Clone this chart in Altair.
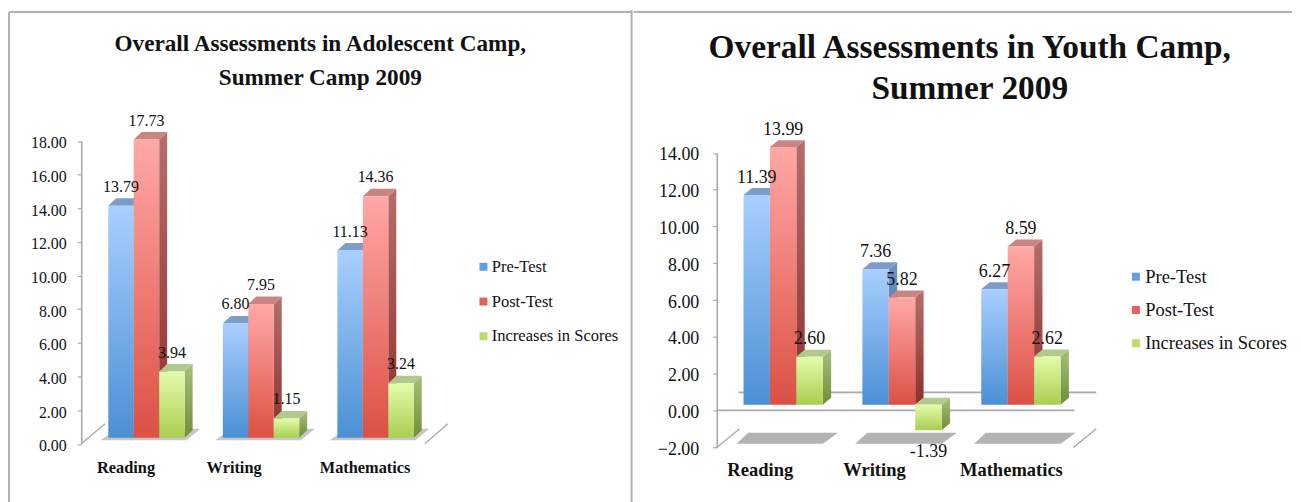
import altair as alt
import pandas as pd

categories = ["Reading", "Writing", "Mathematics"]
series = ["Pre-Test", "Post-Test", "Increases in Scores"]
teen_pre = [13.79, 6.80, 11.13]
teen_post = [17.73, 7.95, 14.36]
teen_inc = [3.94, 1.15, 3.24]
youth_pre = [11.39, 7.36, 6.27]
youth_post = [13.99, 5.82, 8.59]
youth_inc = [2.60, -1.39, 2.62]
teen_title = ["Overall Assessments in Adolescent Camp,", "Summer Camp 2009"]
youth_title = ["Overall Assessments in Youth Camp,", "Summer 2009"]
teen_ticks = [0, 2, 4, 6, 8, 10, 12, 14, 16, 18]
youth_ticks = [-2, 0, 2, 4, 6, 8, 10, 12, 14]

FONT = "Liberation Serif"
GRID = "#a9a9a9"


def grad(top, bottom):
    return alt.Gradient(gradient="linear", x1=0, x2=0, y1=0, y2=1,
                        stops=[alt.GradientStop(offset=0, color=top),
                               alt.GradientStop(offset=1, color=bottom)])


FRONT = [("#A9CFFF", "#4A90D4"), ("#FFA8A6", "#DC5044"), ("#E4FCAC", "#A9CE50")]
SIDE = [("#6F93C2", "#35689F"), ("#B46E6C", "#8E2F2B"), ("#A8BE7C", "#6F8F36")]
TOPF = ["#7C9DC9", "#C98583", "#B3C88C"]
LEGEND = ["#5F9FE0", "#E4605A", "#BBDD66"]


def build(P, rows, title):
    ox, oy = P["ox"], P["oy"]
    ux = (P["ax1"] - P["ax0"]) / 3
    uy = (P["y_lo_px"] - P["y_hi_px"]) / (P["dom"][1] - P["dom"][0])
    px_x = lambda n: n / ux
    px_y = lambda n: n / uy
    from_px = lambda x: (x - P["ax0"]) / ux
    val_px = lambda y: P["dom"][0] + (P["y_lo_px"] - y) / uy

    xe = alt.X("x:Q", axis=None, title=None,
               scale=alt.Scale(domain=[0, 3], range=[P["ax0"] - ox, P["ax1"] - ox], nice=False, zero=False))
    yscale = alt.Scale(domain=P["dom"], range=[P["y_lo_px"] - oy, P["y_hi_px"] - oy], nice=False, zero=False)
    ye = alt.Y("y:Q", title=None, scale=yscale,
               axis=alt.Axis(values=P["ticks"], format=".2f", offset=-(P["ax0"] - ox), grid=False,
                             domainColor=GRID, domainWidth=1.6, tickColor=GRID, tickSize=4, tickWidth=1.2,
                             labelFont=FONT, labelFontSize=P["fs"], labelColor="#111",
                             labelPadding=P["lp"], labelBaseline="middle", labelOffset=2))

    def para(key, xl, xr, dx, y0, dy):
        return [dict(k=key, x=xl, y=y0, y2=y0),
                dict(k=key, x=xl + dx, y=y0, y2=y0 + dy),
                dict(k=key, x=xr, y=y0, y2=y0 + dy),
                dict(k=key, x=xr + dx, y=y0 + dy, y2=y0 + dy)]

    def area(recs, color):
        return alt.Chart(pd.DataFrame(recs)).mark_area(color=color, orient="vertical", strokeWidth=0).encode(
            x=xe, y=ye, y2="y2:Q", detail="k:N")

    def seg(pts, width):
        df = pd.DataFrame([dict(k=k, x=from_px(x), y=val_px(y)) for k, x, y in pts])
        return alt.Chart(df).mark_line(color=GRID, strokeWidth=width).encode(x=xe, y=ye, detail="k:N")

    w = 1 / 4.5
    sx, sy = px_x(P["shift_x"]), px_y(P["shift_y"])
    dx, dy = px_x(P["dx"]), px_y(P["dy"])

    layers = []
    fr = alt.Chart(pd.DataFrame({"a": [0]}))
    for r in P["rules"]:
        layers.append(fr.mark_rule(color="#b2b2b2", strokeWidth=2).encode(
            x=alt.value(r[0]), x2=alt.value(r[1]), y=alt.value(r[2]), y2=alt.value(r[3])))

    # floor & walls
    layers.append(seg(P["lines"], 1.3))
    if P.get("heavy"):
        layers.append(seg(P["heavy"], 1.8))
    # floor shadows
    sh = []
    s = P["shadow"]
    for i in range(3):
        c = i + 0.5 + sx
        bl, br, tl, tr = [px_x(v) for v in s["xs"]]
        y0 = val_px(s["y_bot"])
        y1 = val_px(s["y_top"])
        sh += [dict(k=f"s{i}", x=c + bl, y=y0, y2=y0),
               dict(k=f"s{i}", x=c + tl, y=y0, y2=y1),
               dict(k=f"s{i}", x=c + br, y=y0, y2=y1),
               dict(k=f"s{i}", x=c + tr, y=y1, y2=y1)]
    layers.append(area(sh, s["color"]))

    labels = []
    for j, vals in enumerate(rows):
        side, top, front = [], [], []
        for i, v in enumerate(vals):
            xl = i + 0.5 - 1.5 * w + j * w + sx
            xr = xl + w
            hi = max(v, 0) + sy
            lo = min(v, 0) + sy
            key = f"b{i}"
            side += [dict(k=key, x=xr, y=lo, y2=hi), dict(k=key, x=xr + dx, y=lo + dy, y2=hi + dy)]
            top += para(key, xl, xr, dx, hi, dy)
            front += [dict(k=key, x=xl, y=lo, y2=hi), dict(k=key, x=xr, y=lo, y2=hi)]
            off = px_y(P["lab"]) if v >= 0 else -px_y(P["neg"])
            labels.append(dict(x=(xl + xr) / 2, y=(v + sy + off), t=f"{v:.2f}"))
        layers += [area(side, grad(*SIDE[j])), area(top, TOPF[j]), area(front, grad(*FRONT[j]))]

    layers.append(alt.Chart(pd.DataFrame(labels)).mark_text(
        font=FONT, fontSize=P["fs"], color="#111", baseline="middle", align="center").encode(x=xe, y=ye, text="t:N"))

    cats = pd.DataFrame([dict(x=from_px(cx), y=val_px(P["cat_y"]), t=c) for c, cx in zip(categories, P["cat_x"])])
    layers.append(alt.Chart(cats).mark_text(
        font=FONT, fontSize=P["cat_fs"], fontWeight="bold", color="#111", baseline="middle", align="center"
    ).encode(x=xe, y=ye, text="t:N"))

    tt = pd.DataFrame([dict(x=from_px(P["title_x"]), y=val_px(yy), t=t) for t, yy in zip(title, P["title_y"])])
    layers.append(alt.Chart(tt).mark_text(
        font=FONT, fontSize=P["title_fs"], fontWeight="bold", color="#111", baseline="middle", align="center"
    ).encode(x=xe, y=ye, text="t:N"))

    lg = pd.DataFrame({"x": [0, 0, 0], "y": [P["dom"][0]] * 3, "s": series})
    layers.append(alt.Chart(lg).mark_point(filled=True, shape="square", size=0, opacity=1).encode(
        x=xe, y=ye,
        color=alt.Color("s:N", sort=None, scale=alt.Scale(domain=series, range=LEGEND),
                        legend=alt.Legend(title=None, orient="none", legendX=P["lx"] - ox, legendY=P["ly"] - oy,
                                          symbolType="square", symbolSize=64, symbolStrokeWidth=0, padding=0,
                                          labelFont=FONT, labelFontSize=P["leg_fs"], labelColor="#111",
                                          labelOffset=0, rowPadding=P["rp"]))))

    return alt.layer(*layers).properties(width=P["w"], height=P["h"])


H = 494
left = dict(ox=8.5, oy=8.5, w=624, h=H, ax0=80, ax1=425, y_lo_px=444, y_hi_px=140, dom=[0, 18], ticks=teen_ticks,
            fs=16, lp=11, lab=19, shift_x=8, shift_y=6, dx=8, dy=7.5, neg=22,
            cat_x=[125, 233.5, 365], cat_y=468, cat_fs=16.4,
            title_x=320, title_y=[43, 77], title_fs=23.3,
            lx=475.5, ly=258, leg_fs=16.6, rp=17.9,
            rules=[(-1, 624, 2, 2), (-1, -1, 2, H), (624, 624, 0, H)],
            lines=[("a", 80, 444), ("a", 104, 424), ("b", 425, 444), ("b", 448, 424)],
            shadow=dict(xs=[-46, 40, -30, 54], y_bot=440.5, y_top=429, color="#c6c6c6"))
right = dict(ox=632.5, oy=8.5, w=661, h=H, ax0=716, ax1=1074, y_lo_px=447.7, y_hi_px=152, dom=[-2, 14], ticks=youth_ticks,
             fs=18, lp=14, lab=17.5, shift_x=7, shift_y=6, dx=8.4, dy=7, neg=22,
             cat_x=[759.7, 874.4, 1011.8], cat_y=470, cat_fs=18.6,
             title_x=970, title_y=[47, 88], title_fs=33.5,
             lx=1127.5, ly=267, leg_fs=18.6, rp=14.4,
             rules=[(0, 661, 2, 2)],
             lines=[("a", 716, 447.7), ("a", 739, 429), ("b", 1074, 447.7), ("b", 1097, 429)],
             heavy=[("f", 716, 410.5), ("f", 1075, 410.5), ("g", 738, 392.5), ("g", 1097, 392.5)],
             shadow=dict(xs=[-47, 40, -35, 55], y_bot=444, y_top=433, color="#b3b3b3"))

chart = alt.hconcat(
    build(left, [teen_pre, teen_post, teen_inc], teen_title),
    build(right, [youth_pre, youth_post, youth_inc], youth_title),
    spacing=0,
).resolve_scale(color="independent").resolve_legend(color="independent").properties(
    padding=0, background="white").configure_view(stroke=None)

chart.save("out.html", embed_options={"renderer": "svg", "actions": False})
